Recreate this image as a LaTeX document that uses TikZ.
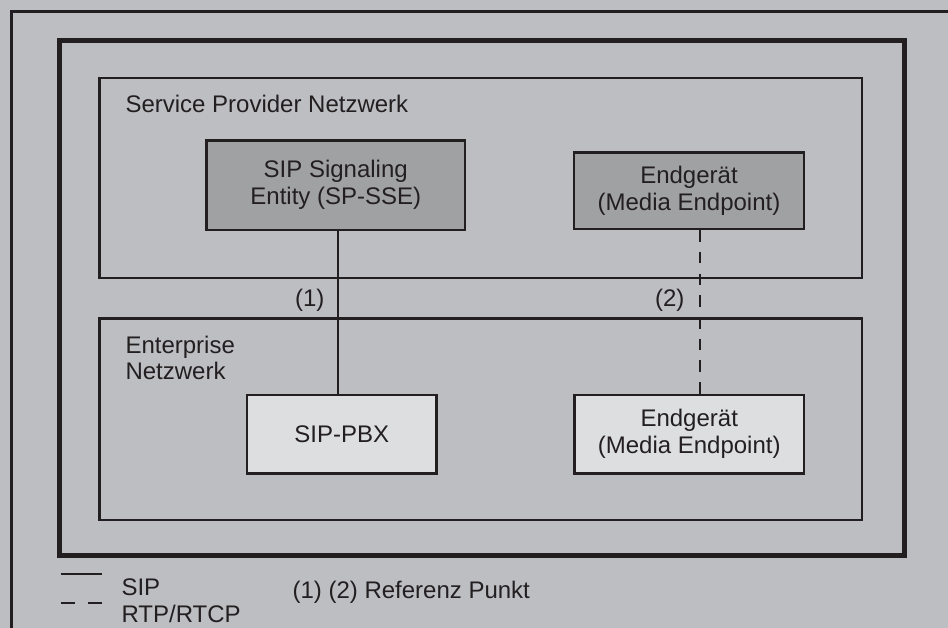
\documentclass[tikz,border=0pt]{standalone}
\usepackage{fontspec}
\setmainfont{Liberation Sans}
\definecolor{bg}{RGB}{189,190,194}
\definecolor{ink}{RGB}{35,31,32}
\definecolor{darkfill}{RGB}{160,161,163}
\definecolor{lightfill}{RGB}{221,222,224}
\begin{document}
\begin{tikzpicture}[x=1pt,y=-1pt,
  txt/.style={font=\fontsize{24}{27}\selectfont, text=ink},
  boxdark/.style={draw=ink, line width=2.5pt, fill=darkfill, txt, align=center, inner sep=0pt},
  boxlight/.style={draw=ink, line width=2.5pt, fill=lightfill, txt, align=center, inner sep=0pt},
  area/.style={draw=ink, line width=2.5pt},
  sipline/.style={draw=ink, line width=2pt},
  rtpline/.style={draw=ink, line width=2pt, dash pattern=on 11.5pt off 10.2pt}
]
\useasboundingbox (0,0) rectangle (948,628);
\clip (0,0) rectangle (948,628);
\fill[bg] (0,0) rectangle (948,628);
% outer frame (cropped)
\draw[ink, line width=3pt] (11.5,640) -- (11.5,11.5) -- (960,11.5);
% thick frame
\draw[ink, line width=5pt] (59.5,40.5) rectangle (904.5,555.5);
% areas
\draw[area] (99.5,78) rectangle (862,278);
\draw[area] (99.5,318.5) rectangle (862,520);
\node[txt, anchor=base west] (spl) at (122,113) {Service Provider Netzwerk};
\node[txt, anchor=base west, align=left] (ent) at (122,380) {Enterprise\\Netzwerk};
% nodes
\node[boxdark, minimum width=258.5pt, minimum height=89.5pt] (sse) at (335.75,185.25) {SIP Signaling\\Entity (SP-SSE)};
\node[boxdark, minimum width=230pt, minimum height=76.5pt] (ep1) at (689,190.75) {Endgerät\\(Media Endpoint)};
\node[boxlight, minimum width=189.5pt, minimum height=78.5pt] (pbx) at (341.75,434.25) {SIP-PBX};
\node[boxlight, minimum width=229.5pt, minimum height=78.5pt] (ep2) at (689.25,434.25) {Endgerät\\(Media Endpoint)};
% connectors
\coordinate (sipx) at (338,0);
\coordinate (rtpx) at (700,0);
\draw[sipline] (sse.south -| sipx) -- (pbx.north -| sipx);
\draw[rtpline] (ep1.south -| rtpx) -- (ep2.north -| rtpx);
\node[txt, anchor=east] (r1) at (328,300) {(1)};
\node[txt, anchor=east] (r2) at (688,300) {(2)};
% legend
\coordinate (l1a) at (61,574);
\coordinate (l1b) at (102,574);
\draw[sipline] (l1a) -- (l1b);
\coordinate (l2a) at (61,602.5);
\coordinate (l2b) at (102,602.5);
\draw[draw=ink, line width=2pt, dash pattern=on 13.7pt off 13.3pt on 14pt] (l2a) -- (l2b);
\node[txt, anchor=base west] (lsip) at (118,595) {SIP};
\node[txt, anchor=base west] (lrtp) at (118,622) {RTP/RTCP};
\node[txt, anchor=base west] (lref) at (289,598.5) {(1) (2) Referenz Punkt};
\end{tikzpicture}
\end{document}
